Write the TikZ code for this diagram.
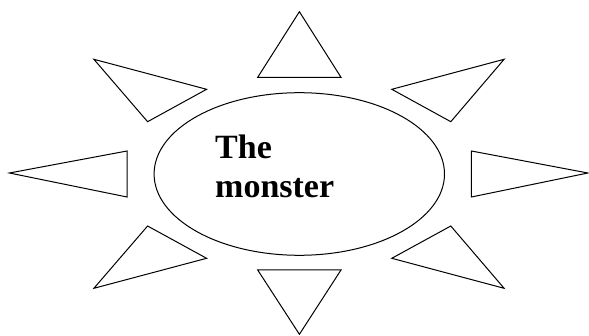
\documentclass[tikz,border=0pt]{standalone}
\usepackage{fontspec}
\setmainfont{Liberation Serif}
\usetikzlibrary{shapes.geometric}
\begin{document}
\begin{tikzpicture}[x=1pt,y=-1pt,
  ray/.style={draw=black,line width=1pt,line join=miter},
  body/.style={draw=black,line width=1pt,ellipse,inner sep=0pt,minimum width=290.4pt,minimum height=162.6pt},
  lbl/.style={inner sep=0pt,anchor=base west,font=\fontsize{34}{39}\selectfont\bfseries}]
\useasboundingbox (0,0) rectangle (589,336);
\node[body] (monster) at (299.3,174) {};
% rays
\draw[ray] (299.4,11.7) -- (257.7,77.3) -- (341,77.3) -- cycle;
\draw[ray] (257.7,270) -- (341,270) -- (299.4,334.3) -- cycle;
\draw[ray] (93.9,59.3) -- (206.6,89.3) -- (147.6,121.7) -- cycle;
\draw[ray] (504.1,59.3) -- (391.8,89.3) -- (450.8,121.7) -- cycle;
\draw[ray] (9.4,173) -- (127,151) -- (127,197) -- cycle;
\draw[ray] (471.4,151) -- (471.4,197) -- (587.9,173) -- cycle;
\draw[ray] (147.6,226) -- (206.6,258.3) -- (93.9,288.3) -- cycle;
\draw[ray] (450.8,226) -- (391.8,258.3) -- (504.1,288.3) -- cycle;
\node[lbl] (t1) at (215,158.3) {The};
\node[lbl] (t2) at (215,197.3) {monster};
\end{tikzpicture}
\end{document}
